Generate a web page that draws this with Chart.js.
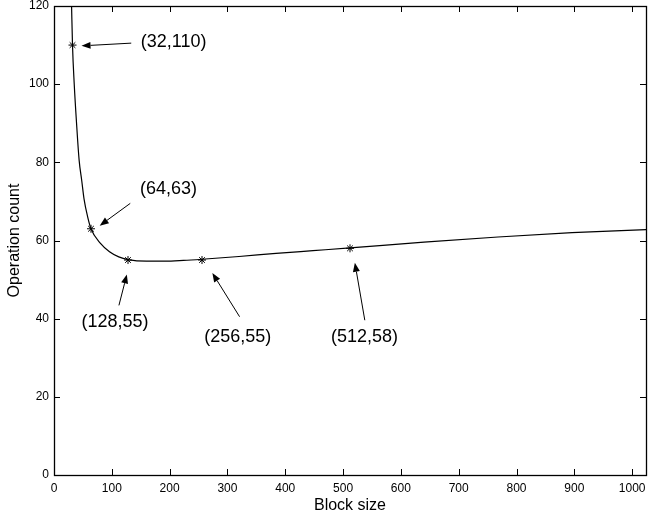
<!DOCTYPE html>
<html>
<head>
<meta charset="utf-8">
<script src="https://cdn.jsdelivr.net/npm/chart.js@4/dist/chart.umd.min.js"></script>
<style>
  html, body { margin: 0; padding: 0; background: #fff; }
  canvas { display: block; }
</style>
</head>
<body>
<canvas id="chart" width="651" height="520"></canvas>
<script>
// Curve (block size -> operation count)
const curveX = [30.4, 32, 35, 39, 43.5, 48, 52, 58, 64, 80, 96, 112, 128, 160, 192, 224, 256, 320, 384, 448, 512, 640, 768, 896, 1024];
const curveY = [120, 110, 100, 90, 80.5, 75.3, 70.6, 66.2, 63, 59.3, 57.1, 55.8, 55.1, 54.7, 54.7, 54.9, 55.2, 55.9, 56.7, 57.4, 58.1, 59.6, 60.9, 62.0, 62.8];

// Marked points
const markX = [32, 64, 128, 256, 512];
const markY = [110, 63, 55, 55, 58];

// Tick values
const xTicks = [0, 100, 200, 300, 400, 500, 600, 700, 800, 900, 1000];
const yTicks = [0, 20, 40, 60, 80, 100, 120];

// Callout labels, placed in data units: label centre, arrow tail, arrow head
const callouts = [
    { text: '(32,110)', at: [207, 110.8], from: [133.6, 110.5], to: [47.6, 109.8] },
    { text: '(64,63)',  at: [198, 73.1],  from: [131.9, 69.5],  to: [79.1, 63.8] },
    { text: '(128,55)', at: [105.6, 39.1], from: [112.3, 43.4], to: [126, 51.3] },
    { text: '(256,55)', at: [318, 35.2],  from: [321, 40.5],    to: [273.9, 51.7] },
    { text: '(512,58)', at: [537, 35.2],  from: [537.6, 39.6],  to: [520.4, 54.3] }
];

const FONT = "'Liberation Sans', Arial, Helvetica, sans-serif";

// box around the plot with inward ticks on all four sides
const boxPlugin = {
    id: 'box',
    afterDraw(chart) {
        const { ctx, chartArea: a, scales } = chart;
        const len = 6;
        ctx.save();
        ctx.strokeStyle = '#000';
        ctx.lineWidth = 1;
        ctx.beginPath();
        scales.x.ticks.forEach(t => {
            const px = Math.round(scales.x.getPixelForValue(t.value)) + 0.5;
            ctx.moveTo(px, a.bottom); ctx.lineTo(px, a.bottom - len);
            ctx.moveTo(px, a.top); ctx.lineTo(px, a.top + len);
        });
        scales.y.ticks.forEach(t => {
            const py = Math.round(scales.y.getPixelForValue(t.value)) + 0.5;
            ctx.moveTo(a.left, py); ctx.lineTo(a.left + len, py);
            ctx.moveTo(a.right, py); ctx.lineTo(a.right - len, py);
        });
        ctx.stroke();
        ctx.lineWidth = 1.3;
        ctx.strokeRect(Math.round(a.left) + 0.5, Math.round(a.top) + 0.5,
            Math.round(a.right - a.left), Math.round(a.bottom - a.top));
        ctx.restore();
    }
};

// labels with arrows
const calloutPlugin = {
    id: 'callouts',
    afterDatasetsDraw(chart) {
        const { ctx, scales } = chart;
        const px = p => [scales.x.getPixelForValue(p[0]), scales.y.getPixelForValue(p[1])];
        ctx.save();
        ctx.strokeStyle = '#000';
        ctx.fillStyle = '#000';
        ctx.lineWidth = 1;
        callouts.forEach(c => {
            const [x1, y1] = px(c.from);
            const [x2, y2] = px(c.to);
            const ang = Math.atan2(y2 - y1, x2 - x1);
            const hl = 9, hw = 3.5;
            const bx = x2 - hl * Math.cos(ang), by = y2 - hl * Math.sin(ang);
            ctx.beginPath();
            ctx.moveTo(x1, y1);
            ctx.lineTo(bx, by);
            ctx.stroke();
            ctx.beginPath();
            ctx.moveTo(x2, y2);
            ctx.lineTo(bx + hw * Math.sin(ang), by - hw * Math.cos(ang));
            ctx.lineTo(bx - hw * Math.sin(ang), by + hw * Math.cos(ang));
            ctx.closePath();
            ctx.fill();

            const [tx, ty] = px(c.at);
            ctx.font = '18px ' + FONT;
            ctx.textAlign = 'center';
            ctx.textBaseline = 'middle';
            ctx.fillText(c.text, tx, ty);
        });
        ctx.restore();
    }
};

new Chart(document.getElementById('chart').getContext('2d'), {
    type: 'scatter',
    data: {
        datasets: [{
            label: 'curve',
            data: curveX.map((x, i) => ({ x: x, y: curveY[i] })),
            showLine: true,
            borderColor: '#000',
            borderWidth: 1.2,
            pointRadius: 0,
            cubicInterpolationMode: 'monotone',
            fill: false
        }, {
            label: 'marks',
            data: markX.map((x, i) => ({ x: x, y: markY[i] })),
            showLine: false,
            pointStyle: 'star',
            pointRadius: 4,
            borderColor: '#000',
            borderWidth: 1,
            backgroundColor: '#000'
        }]
    },
    options: {
        responsive: false,
        animation: false,
        layout: { padding: { top: 6, right: 2, left: 0, bottom: 0 } },
        plugins: {
            legend: { display: false },
            tooltip: { enabled: false }
        },
        scales: {
            x: {
                type: 'linear',
                min: 0,
                max: 1024,
                afterBuildTicks: s => { s.ticks = xTicks.map(v => ({ value: v })); },
                afterFit: s => { s.height = 45; s.paddingRight = 0; },
                grid: { display: false, drawTicks: false },
                border: { display: false },
                ticks: {
                    color: '#000',
                    font: { family: FONT, size: 12 },
                    padding: 6,
                    maxRotation: 0,
                    autoSkip: false,
                    callback: v => String(v)
                },
                title: {
                    display: true,
                    text: 'Block size',
                    color: '#000',
                    font: { family: FONT, size: 16 },
                    padding: { top: 0, bottom: 5 }
                }
            },
            y: {
                type: 'linear',
                min: 0,
                max: 120,
                afterBuildTicks: s => { s.ticks = yTicks.map(v => ({ value: v })); },
                afterFit: s => { s.width = 54; s.paddingTop = 0; },
                grid: { display: false, drawTicks: false },
                border: { display: false },
                ticks: {
                    color: '#000',
                    font: { family: FONT, size: 12 },
                    padding: 5,
                    autoSkip: false
                },
                title: {
                    display: true,
                    text: 'Operation count',
                    color: '#000',
                    font: { family: FONT, size: 16 },
                    padding: { top: 5, bottom: 0 }
                }
            }
        }
    },
    plugins: [boxPlugin, calloutPlugin]
});
</script>
</body>
</html>
